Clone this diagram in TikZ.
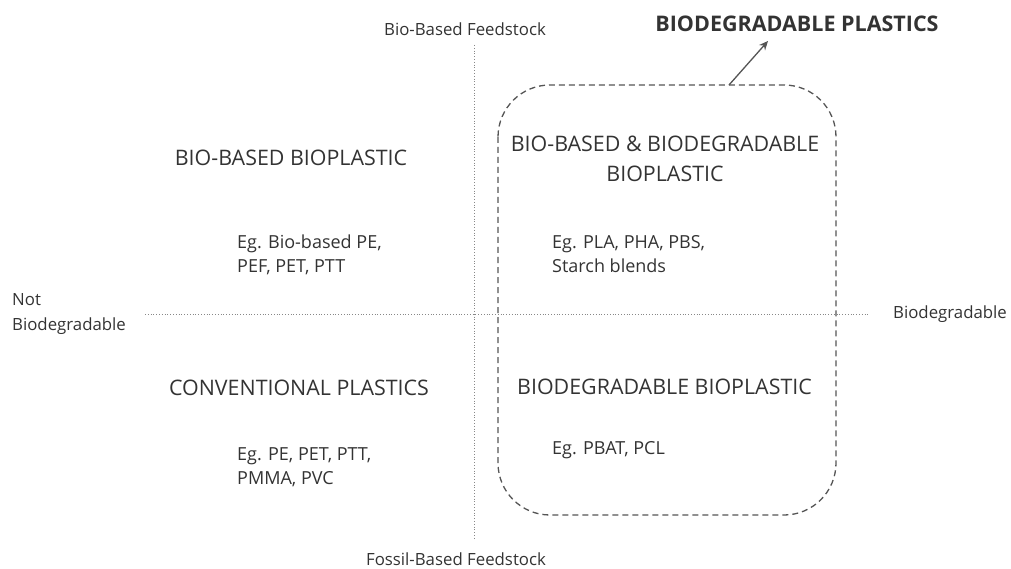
\documentclass[tikz,border=0pt]{standalone}
\usepackage{fontspec}
\setmainfont{Open Sans}
\usetikzlibrary{arrows.meta}
\definecolor{txt}{HTML}{333333}
\definecolor{ln}{HTML}{555555}
\tikzset{
  quad/.style={text=txt, font=\fontsize{21.4}{30}\selectfont, align=center, inner sep=0pt},
  ex/.style={text=txt, font=\fontsize{18}{24}\selectfont, align=left, anchor=west, inner sep=0pt},
  axlab/.style={text=txt, font=\fontsize{16.8}{25.5}\selectfont, inner sep=0pt},
  axis/.style={draw=ln!70, line width=0.8pt, dotted},
  group/.style={draw=ln, line width=1.3pt, dash pattern=on 6pt off 4pt, rounded corners=52pt},
}
\begin{document}
\begin{tikzpicture}[x=1pt,y=-1pt]
\useasboundingbox (0,0) rectangle (1011,569);
% axes
\coordinate (hl) at (145,314);
\coordinate (hr) at (869,314);
\coordinate (vt) at (474,45);
\coordinate (vb) at (474,540);
\draw[axis] (hl) -- (hr);
\draw[axis] (vt) -- (vb);
% axis labels
\node[axlab] (top) at (465,29) {Bio-Based Feedstock};
\node[axlab] (bot) at (456,559) {Fossil-Based Feedstock};
\node[axlab, anchor=west, align=left] (left) at (12,314) {Not\\Biodegradable};
\node[axlab, anchor=west] (right) at (893,314) {Biodegradable};
% dashed group
\draw[group] (498,85) rectangle (836,515);
\coordinate (gtop) at (729,85);
\node[text=txt, font=\fontsize{21.5}{26}\selectfont\bfseries, inner sep=0pt] (gt) at (797,24) {BIODEGRADABLE PLASTICS};
\draw[ln, line width=1.3pt, -{Stealth[length=9pt,width=8pt]}] (gtop) -- (768,41);
% quadrants
\node[quad] (q1) at (291,157.5) {BIO-BASED BIOPLASTIC};
\node[ex] (e1) at (237,255) {Eg. Bio-based PE,\\PEF, PET, PTT};
\node[quad] (q2) at (665,158.5) {BIO-BASED \& BIODEGRADABLE\\BIOPLASTIC};
\node[ex] (e2) at (552,254) {Eg. PLA, PHA, PBS,\\Starch blends};
\node[quad] (q3) at (299,387.5) {CONVENTIONAL PLASTICS};
\node[ex] (e3) at (237,467.5) {Eg. PE, PET, PTT,\\PMMA, PVC};
\node[quad] (q4) at (664.5,386.5) {BIODEGRADABLE BIOPLASTIC};
\node[ex] (e4) at (552,450) {Eg. PBAT, PCL};
\end{tikzpicture}
\end{document}
